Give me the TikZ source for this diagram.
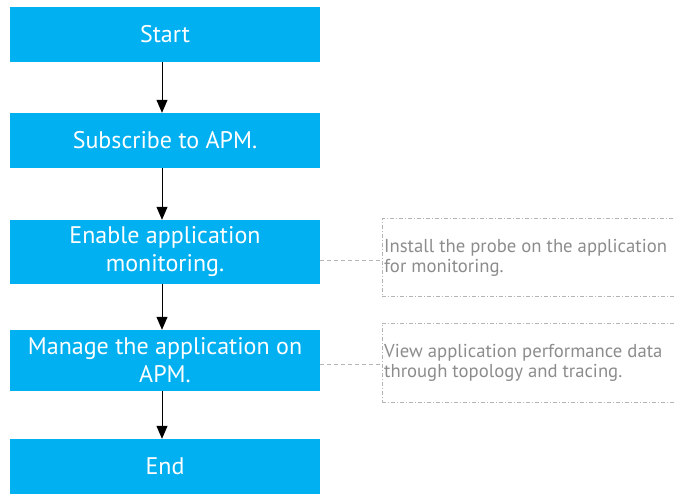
\documentclass[tikz,border=0pt]{standalone}
\usepackage{fontspec}
\setmainfont{PT Sans}
\usetikzlibrary{arrows.meta}
\definecolor{stepblue}{HTML}{00B0F0}
\definecolor{notegray}{HTML}{8C8C8C}
\definecolor{notedash}{HTML}{B4B4B4}
\tikzset{
  x=1pt, y=1pt,
  stepbox/.style={fill=stepblue, draw=none, minimum width=310pt, text=white,
    font=\fontsize{24}{28}\selectfont, align=center, inner sep=0pt},
  flow/.style={-{Triangle[length=13pt,width=11pt]}, line width=1pt, black},
  notebox/.style={draw=notedash, line width=0.7pt,
    dash pattern=on 4pt off 2pt on 1pt off 2pt},
  notetext/.style={text=notegray, font=\fontsize{18.7}{20.5}\selectfont,
    align=left, anchor=west, inner sep=0pt},
  notelink/.style={draw=notedash, line width=0.7pt, dash pattern=on 4pt off 3pt}
}
\begin{document}
\begin{tikzpicture}
\useasboundingbox (0,0) rectangle (675,-493);
% main steps
\node[stepbox, minimum height=55pt] (start) at (165,-34.5) {Start};
\node[stepbox, minimum height=55pt] (sub) at (165,-140.5) {Subscribe to APM.};
\node[stepbox, minimum height=64pt] (enable) at (165,-252) {Enable application\\monitoring.};
\node[stepbox, minimum height=61pt] (manage) at (165,-360.5) {Manage the application on\\APM.};
\node[stepbox, minimum height=55pt] (end) at (165,-466.5) {End};
% arrows between steps
\draw[flow] ([xshift=-3pt]start.south) -- ([xshift=-3pt]sub.north);
\draw[flow] ([xshift=-3pt]sub.south) -- ([xshift=-3pt]enable.north);
\draw[flow] ([xshift=-3pt]enable.south) -- ([xshift=-3pt]manage.north);
\draw[flow] ([xshift=-3pt]manage.south) -- ([xshift=-3pt]end.north);
% side notes
\node[notebox, minimum width=300pt, minimum height=78pt, anchor=west] (n1) at (381.5,-257.5) {};
\node[notetext] (t1) at (384,-258) {Install the probe on the application\\for monitoring.};
\node[notebox, minimum width=300pt, minimum height=79pt, anchor=west] (n2) at (381.5,-362.5) {};
\node[notetext] (t2) at (384,-363) {View application performance data\\through topology and tracing.};
\draw[notelink] (enable.east |- 0,-260) -- (n1.west |- 0,-260);
\draw[notelink] (manage.east |- 0,-364) -- (n2.west |- 0,-364);
\end{tikzpicture}
\end{document}
